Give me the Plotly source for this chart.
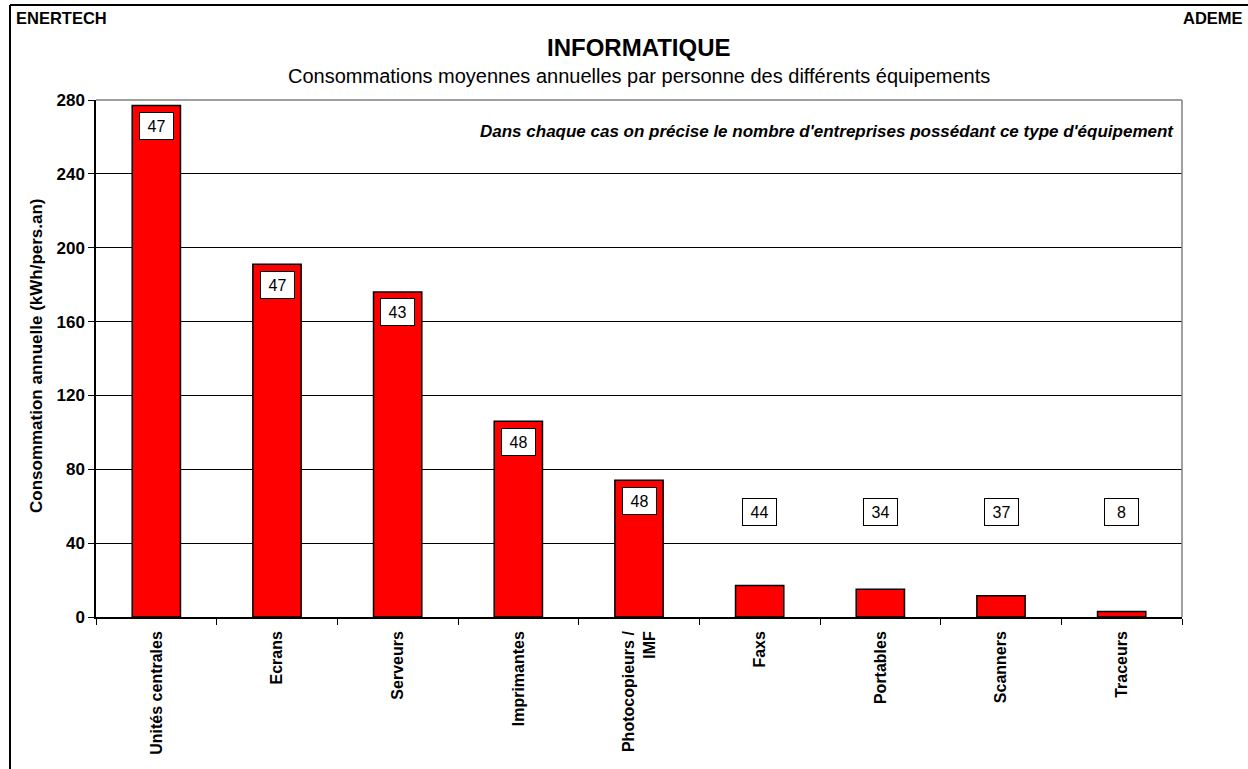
import plotly.graph_objects as go

categories = ["Unités centrales", "Ecrans", "Serveurs", "Imprimantes", "Photocopieurs /<br>IMF",
              "Faxs", "Portables", "Scanners", "Traceurs"]
consumption = [277, 191, 176, 106, 74, 17, 15, 11.5, 3]
nb_entreprises = [47, 47, 43, 48, 48, 44, 34, 37, 8]
y_ticks = [0, 40, 80, 120, 160, 200, 240, 280]

W, H = 1248, 769
L, R, T, B = 96, 1182, 100, 617
pw, ph = R - L, B - T


def px(x):
    return (x - L) / pw


def py(y):
    return (B - y) / ph


FONT = "Arial, Liberation Sans, sans-serif"

fig = go.Figure()
fig.add_trace(go.Bar(
    x=categories, y=consumption,
    marker=dict(color="#FF0000", line=dict(color="black", width=1.5)),
    width=0.4, hoverinfo="x+y",
))

annotations = []
for c, v, n in zip(categories, consumption, nb_entreprises):
    annotations.append(dict(
        x=c, y=max(v - 11, 57), xref="x", yref="y", text=str(n), showarrow=False,
        font=dict(family=FONT, size=16, color="black"),
        bgcolor="white", bordercolor="black", borderwidth=1, width=31, height=24,
        xanchor="center", yanchor="middle",
    ))

annotations += [
    dict(x=0.5, y=py(47), xref="paper", yref="paper", text="<b>INFORMATIQUE</b>", showarrow=False,
         font=dict(family=FONT, size=24, color="black"), xanchor="center", yanchor="middle"),
    dict(x=0.5, y=py(76), xref="paper", yref="paper",
         text="Consommations moyennes annuelles par personne des différents équipements", showarrow=False,
         font=dict(family=FONT, size=20, color="black"), xanchor="center", yanchor="middle"),
    dict(x=px(14), y=py(18.5), xref="paper", yref="paper", text="<b>ENERTECH</b>", showarrow=False,
         font=dict(family=FONT, size=16.5, color="black"), xanchor="left", yanchor="middle"),
    dict(x=px(1245), y=py(18.5), xref="paper", yref="paper", text="<b>ADEME</b>", showarrow=False,
         font=dict(family=FONT, size=16.5, color="black"), xanchor="right", yanchor="middle"),
    dict(x=px(1176), y=py(131), xref="paper", yref="paper",
         text="<b><i>Dans chaque cas on précise le nombre d'entreprises possédant ce type d'équipement</i></b>",
         showarrow=False, font=dict(family=FONT, size=17, color="black"), xanchor="right", yanchor="middle"),
    dict(x=px(36), y=py(356), xref="paper", yref="paper", text="<b>Consommation annuelle (kWh/pers.an)</b>",
         textangle=-90, showarrow=False, font=dict(family=FONT, size=17, color="black"),
         xanchor="center", yanchor="middle"),
]

shapes = [
    # outer frame (left and top)
    dict(type="line", xref="paper", yref="paper", x0=px(10), x1=px(10), y0=py(5), y1=py(775),
         line=dict(color="black", width=2)),
    dict(type="line", xref="paper", yref="paper", x0=px(10), x1=px(1260), y0=py(5), y1=py(5),
         line=dict(color="black", width=2)),
    # plot area border (top and right)
    dict(type="line", xref="paper", yref="paper", x0=0, x1=1, y0=1, y1=1,
         line=dict(color="#808080", width=1.5)),
    dict(type="line", xref="paper", yref="paper", x0=1, x1=1, y0=0, y1=1,
         line=dict(color="#808080", width=1.5)),
]

fig.update_layout(
    width=W, height=H,
    margin=dict(l=L, r=W - R, t=T, b=H - B),
    paper_bgcolor="white", plot_bgcolor="white",
    showlegend=False,
    annotations=annotations,
    shapes=shapes,
    font=dict(family=FONT, color="black"),
)
fig.update_xaxes(
    type="category", tickangle=-90, tickson="boundaries", ticks="outside", ticklen=6,
    tickcolor="black", showline=True, linecolor="black", linewidth=1.5, ticklabelstandoff=6,
    tickfont=dict(family=FONT, size=16, color="black", weight="bold"), showgrid=False,
)
fig.update_yaxes(
    range=[0, 280], tickvals=y_ticks, ticks="outside", ticklen=6, tickcolor="black",
    showline=True, linecolor="black", linewidth=1.5, showgrid=True, gridcolor="black", gridwidth=1,
    zeroline=False, tickfont=dict(family=FONT, size=17, color="black", weight="bold"),
)

fig.write_html("out.html", config={"displayModeBar": False},
               post_script="document.body.style.margin='0';")
